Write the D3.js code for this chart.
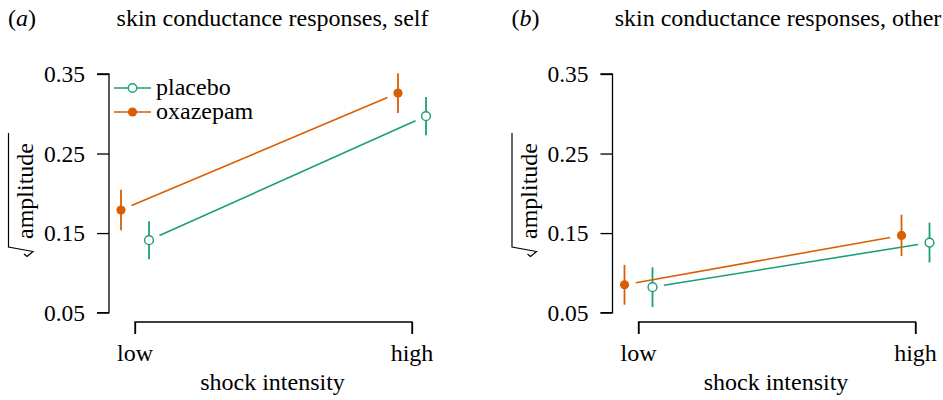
<!DOCTYPE html>
<html>
<head>
<meta charset="utf-8">
<script src="https://cdn.jsdelivr.net/npm/d3@7"></script>
<style>
  html, body { margin: 0; padding: 0; background: #fff; }
</style>
</head>
<body>
<svg id="chart" width="943" height="400"></svg>
<script>
// ---- data ----
const intensities = ["low", "high"];
const groups = ["placebo", "oxazepam"];
const panelLabels = ["a", "b"];
const panelTitles = ["skin conductance responses, self", "skin conductance responses, other"];
const yTicks = [0.05, 0.15, 0.25, 0.35];
// panel (a) self
const selfPlacebo = [0.141, 0.297];
const selfPlaceboSE = [0.024, 0.024];
const selfOxazepam = [0.179, 0.326];
const selfOxazepamSE = [0.0255, 0.025];
// panel (b) other
const otherPlacebo = [0.082, 0.138];
const otherPlaceboSE = [0.025, 0.025];
const otherOxazepam = [0.085, 0.147];
const otherOxazepamSE = [0.025, 0.026];

const panels = [
  { label: panelLabels[0], title: panelTitles[0], series: [
    { name: groups[0], mean: selfPlacebo, se: selfPlaceboSE },
    { name: groups[1], mean: selfOxazepam, se: selfOxazepamSE } ] },
  { label: panelLabels[1], title: panelTitles[1], series: [
    { name: groups[0], mean: otherPlacebo, se: otherPlaceboSE },
    { name: groups[1], mean: otherOxazepam, se: otherOxazepamSE } ] }
];

const colors = { placebo: "#1B9E77", oxazepam: "#D95F02" };
const dodge = { placebo: 14, oxazepam: -14 };
const FS = 24;

const svg = d3.select("#chart");
const txt = (sel, fs) => sel.attr("font-size", fs || FS).style("font-family", '"Liberation Serif"').attr("fill", "#000");

panels.forEach((p, i) => {
  const ox = i * 503.5;
  const g = svg.append("g").attr("transform", `translate(${ox},0)`);
  const axX = 109;
  const y = d3.scaleLinear().domain([0.05, 0.35]).range([312.6, 74]);
  const x = d3.scalePoint().domain(intensities).range([135, 412]);

  // y axis (R style) - lines via d3 axis, labels as plain text
  const yAxis = d3.axisLeft(y).tickValues(yTicks).tickSize(12).tickFormat("");
  const ya = g.append("g").attr("transform", `translate(${axX},0)`).call(yAxis);
  ya.selectAll("text").remove();
  ya.select(".domain").attr("d", `M-12,${y(0.35)}H0V${y(0.05)}H-12`).attr("stroke", "#000").attr("stroke-width", 1.3).attr("fill", "none");
  ya.selectAll(".tick line").attr("stroke", "#000").attr("stroke-width", 1.3);
  yTicks.forEach(t => {
    g.append("text").attr("x", axX - 24).attr("y", y(t) + 8).attr("text-anchor", "end")
      .call(txt, 23.5).text(d3.format(".2f")(t));
  });

  // x axis (R style bracket)
  const xAxis = d3.axisBottom(x).tickSize(12).tickFormat("");
  const xa = g.append("g").attr("transform", `translate(0,334)`).call(xAxis);
  xa.selectAll("text").remove();
  xa.select(".domain").attr("d", `M${x("low")},0V-12H${x("high")}V0`).attr("stroke", "#000").attr("stroke-width", 1.3).attr("fill", "none");
  xa.selectAll(".tick line").attr("y1", 0).attr("y2", -12).attr("stroke", "#000").attr("stroke-width", 1.3);
  intensities.forEach(k => {
    g.append("text").attr("x", x(k)).attr("y", 360.5).attr("text-anchor", "middle")
      .call(txt).text(k);
  });

  // x label
  g.append("text").attr("x", 272.5).attr("y", 390).attr("text-anchor", "middle")
    .call(txt).text("shock intensity");

  // y label with radical
  g.append("text").attr("transform", `translate(33,191) rotate(-90)`).attr("text-anchor", "middle")
    .call(txt).text("amplitude");
  g.append("path")
    .attr("d", `M8.5,133V247L33,251.5L27,256.5L24,254`)
    .attr("fill", "none").attr("stroke", "#000").attr("stroke-width", 1.2).attr("stroke-linejoin", "miter");

  // titles
  const lab = g.append("text").attr("x", 8).attr("y", 26).call(txt);
  lab.append("tspan").text("(");
  lab.append("tspan").style("font-style", "italic").text(p.label);
  lab.append("tspan").text(")");
  g.append("text").attr("x", 272.5 + (i ? 2 : 0)).attr("y", 26).attr("text-anchor", "middle")
    .call(txt).text(p.title);

  // series
  p.series.forEach(s => {
    const col = colors[s.name];
    const pts = intensities.map((k, j) => ({ px: x(k) + dodge[s.name], py: y(s.mean[j]), lo: y(s.mean[j] - s.se[j]), hi: y(s.mean[j] + s.se[j]) }));
    // connecting line with gaps (R type="b")
    const gap = 11.5;
    const [a, b] = pts;
    const dx = b.px - a.px, dy = b.py - a.py, L = Math.hypot(dx, dy);
    g.append("line")
      .attr("x1", a.px + dx / L * gap).attr("y1", a.py + dy / L * gap)
      .attr("x2", b.px - dx / L * gap).attr("y2", b.py - dy / L * gap)
      .attr("stroke", col).attr("stroke-width", 1.6);
    pts.forEach(pt => {
      g.append("line").attr("x1", pt.px).attr("x2", pt.px).attr("y1", pt.lo).attr("y2", pt.hi)
        .attr("stroke", col).attr("stroke-width", 1.8);
      if (s.name === "oxazepam") {
        g.append("circle").attr("cx", pt.px).attr("cy", pt.py).attr("r", 4.6).attr("fill", col);
      } else {
        g.append("circle").attr("cx", pt.px).attr("cy", pt.py).attr("r", 4.4).attr("fill", "#fff")
          .attr("stroke", col).attr("stroke-width", 1.4);
      }
    });
  });

  // legend (panel a only)
  if (i === 0) {
    groups.forEach((name, k) => {
      const ly = 88 + k * 24;
      const col = colors[name];
      g.append("line").attr("x1", 114).attr("x2", 151).attr("y1", ly).attr("y2", ly)
        .attr("stroke", col).attr("stroke-width", 1.6);
      if (name === "oxazepam") {
        g.append("circle").attr("cx", 132.5).attr("cy", ly).attr("r", 4.6).attr("fill", col);
      } else {
        g.append("circle").attr("cx", 132.5).attr("cy", ly).attr("r", 4.2).attr("fill", "#fff")
          .attr("stroke", col).attr("stroke-width", 1.4);
      }
      g.append("text").attr("x", 156).attr("y", ly + 6.5).call(txt).text(name);
    });
  }
});
</script>
</body>
</html>
